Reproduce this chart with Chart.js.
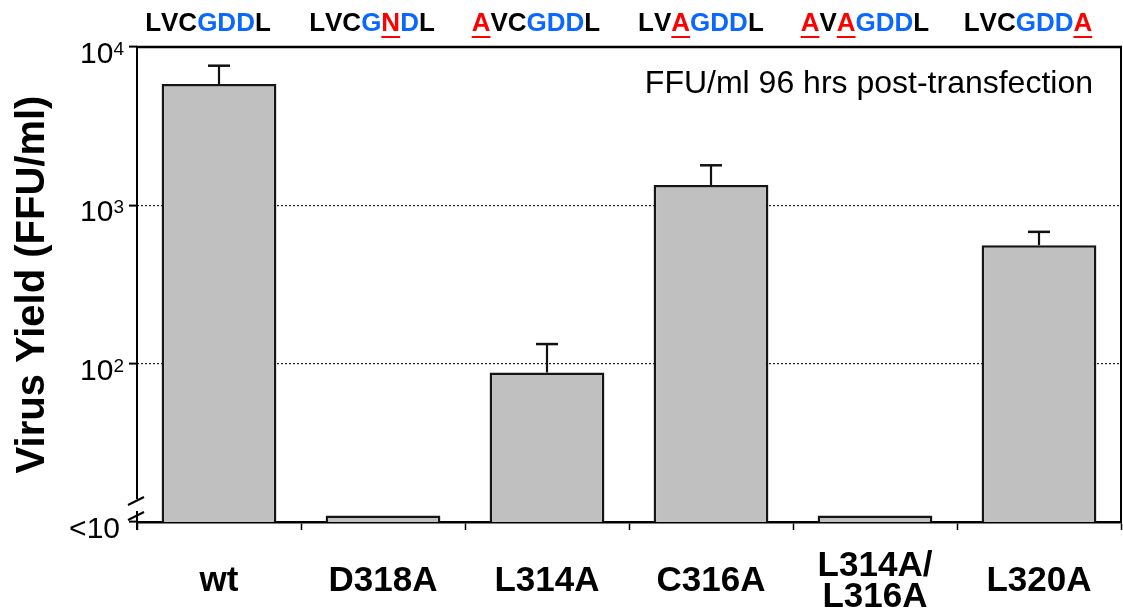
<!DOCTYPE html>
<html>
<head>
<meta charset="utf-8">
<script src="https://cdn.jsdelivr.net/npm/chart.js@4"></script>
<style>
  html, body { margin: 0; padding: 0; background: #fff; }
  canvas { display: block; }
</style>
</head>
<body>
<canvas id="chart" width="1123" height="609"></canvas>
<script>
// Mutants of the GDD motif region and their virus yield
const categories = ['wt', 'D318A', 'L314A', 'C316A', ['L314A/', 'L316A'], 'L320A'];
const motifs = ['LVCGDDL', 'LVCGNDL', 'AVCGDDL', 'LVAGDDL', 'AVAGDDL', 'LVCGDDA'];
const wildTypeMotif = 'LVCGDDL';
const catalyticPositions = [3, 4, 5];           // G D D
const virusYield = [5840, 11, 88, 1345, 11, 560];     // FFU/ml
const yieldUpper = [7620, null, 133, 1790, null, 680]; // mean + error
const yTickValues = [10, 100, 1000, 10000];
const yTickBase = ['<10', '10', '10', '10'];
const yTickExponent = ['', '2', '3', '4'];
const dottedGridValues = [100, 1000];
const yAxisTitle = 'Virus Yield (FFU/ml)';
const noteText = 'FFU/ml 96 hrs post-transfection';

const FONT = "'Liberation Sans', Arial, Helvetica, sans-serif";
const BLUE = '#0a68ff';
const RED = '#ff0000';

// Top and right frame lines plus the left axis with its break marks
const framePlugin = {
  id: 'frame',
  afterDraw(chart) {
    const { ctx, chartArea: a } = chart;
    ctx.save();
    ctx.strokeStyle = '#000';
    ctx.lineCap = 'butt';
    const line = (x1, y1, x2, y2, w) => {
      ctx.lineWidth = w;
      ctx.beginPath(); ctx.moveTo(x1, y1); ctx.lineTo(x2, y2); ctx.stroke();
    };
    line(a.left - 1, a.top, a.right + 1, a.top, 2.5);
    line(a.right, a.top, a.right, a.bottom, 2);
    // broken y axis
    line(a.left, a.top, a.left, a.bottom - 23, 2);
    line(a.left, a.bottom - 11, a.left, a.bottom + 8, 2);
    line(a.left - 9, a.bottom - 17, a.left + 7, a.bottom - 25, 2);
    line(a.left - 9, a.bottom - 2, a.left + 7, a.bottom - 10, 2);
    ctx.restore();
  }
};

// Upper error bars drawn from the yield arrays through the y scale
const errorBarPlugin = {
  id: 'errorBars',
  afterDatasetsDraw(chart) {
    const { ctx } = chart;
    const y = chart.scales.y;
    const meta = chart.getDatasetMeta(0);
    ctx.save();
    ctx.strokeStyle = '#111';
    yieldUpper.forEach((hi, i) => {
      if (hi == null) return;
      const bar = meta.data[i];
      const yTop = y.getPixelForValue(hi);
      const yBar = y.getPixelForValue(virusYield[i]);
      ctx.lineWidth = 2.2;
      ctx.beginPath(); ctx.moveTo(bar.x, yBar); ctx.lineTo(bar.x, yTop); ctx.stroke();
      ctx.lineWidth = 2.5;
      ctx.beginPath(); ctx.moveTo(bar.x - 11, yTop); ctx.lineTo(bar.x + 11, yTop); ctx.stroke();
    });
    ctx.restore();
  }
};

// Y tick labels with exponents, motif sequences above the plot, and the note
const textPlugin = {
  id: 'texts',
  afterDraw(chart) {
    const { ctx, chartArea: a } = chart;
    const yScale = chart.scales.y;
    const xScale = chart.scales.x;
    ctx.save();
    ctx.fillStyle = '#000';
    ctx.textBaseline = 'alphabetic';

    // y tick labels
    yTickValues.forEach((v, i) => {
      const py = yScale.getPixelForValue(v);
      const exp = yTickExponent[i];
      ctx.font = `19px ${FONT}`;
      const expW = exp ? ctx.measureText(exp).width : 0;
      const right = exp ? a.left - 13 : a.left - 17;
      if (exp) {
        ctx.textAlign = 'right';
        ctx.fillText(exp, right, py + 8);
      }
      ctx.font = `30px ${FONT}`;
      ctx.textAlign = 'right';
      ctx.fillText(yTickBase[i], right - expW, py + 16);
    });

    // motif sequences
    ctx.font = `bold 26px ${FONT}`;
    ctx.textAlign = 'left';
    motifs.forEach((seq, i) => {
      const cx = xScale.getPixelForValue(i) - 12;
      const total = ctx.measureText(seq).width;
      let x = cx - total / 2;
      const baseY = 31;
      for (let k = 0; k < seq.length; k++) {
        const ch = seq[k];
        const w = ctx.measureText(ch).width;
        const mutated = ch !== wildTypeMotif[k];
        let color = '#000';
        if (mutated) color = RED;
        else if (catalyticPositions.includes(k)) color = BLUE;
        ctx.fillStyle = color;
        ctx.fillText(ch, x, baseY);
        if (mutated) {
          ctx.strokeStyle = RED;
          ctx.lineWidth = 2;
          ctx.beginPath(); ctx.moveTo(x, baseY + 6); ctx.lineTo(x + w, baseY + 6); ctx.stroke();
        }
        x += w;
      }
    });

    // note
    ctx.fillStyle = '#000';
    ctx.font = `32px ${FONT}`;
    ctx.textAlign = 'right';
    ctx.fillText(noteText, a.right - 28, 93);
    ctx.restore();
  }
};

new Chart(document.getElementById('chart'), {
  type: 'bar',
  data: {
    labels: categories,
    datasets: [{
      data: virusYield,
      backgroundColor: '#c0c0c0',
      borderColor: '#151515',
      borderWidth: 2.5,
      barPercentage: 0.7,
      categoryPercentage: 1.0
    }]
  },
  options: {
    responsive: false,
    animation: false,
    events: [],
    layout: { padding: { top: 47, right: 2, left: 0, bottom: 0 } },
    plugins: { legend: { display: false }, tooltip: { enabled: false } },
    scales: {
      x: {
        afterFit(s) { s.height = 87; s.paddingLeft = 0; s.paddingRight = 0; },
        grid: {
          display: true, offset: true, drawOnChartArea: false, drawTicks: true,
          tickLength: 8, tickWidth: 1.5, tickColor: '#000', color: '#000'
        },
        border: { display: true, color: '#000', width: 2.5 },
        ticks: {
          color: '#000', autoSkip: false, maxRotation: 0, minRotation: 0,
          crossAlign: 'center', padding: 36,
          font: { family: FONT, size: 35, weight: 'bold', lineHeight: 0.9 }
        }
      },
      y: {
        type: 'logarithmic',
        min: 10, max: 10000,
        afterFit(s) { s.width = 137; s.paddingTop = 0; s.paddingBottom = 0; },
        afterBuildTicks(s) { s.ticks = yTickValues.map(v => ({ value: v })); },
        border: { display: false, dash: [2, 2] },
        grid: {
          drawTicks: true, tickLength: 8, tickWidth: 2, tickColor: '#000',
          tickBorderDash: [],
          lineWidth: 1.2,
          color: ctx => (ctx.tick && dottedGridValues.includes(ctx.tick.value)) ? '#222' : 'rgba(0,0,0,0)'
        },
        ticks: { display: false },
        title: {
          display: true, text: yAxisTitle, color: '#000',
          padding: { top: 9, bottom: 0 },
          font: { family: FONT, size: 40, weight: 'bold' }
        }
      }
    }
  },
  plugins: [framePlugin, errorBarPlugin, textPlugin]
});
</script>
</body>
</html>
